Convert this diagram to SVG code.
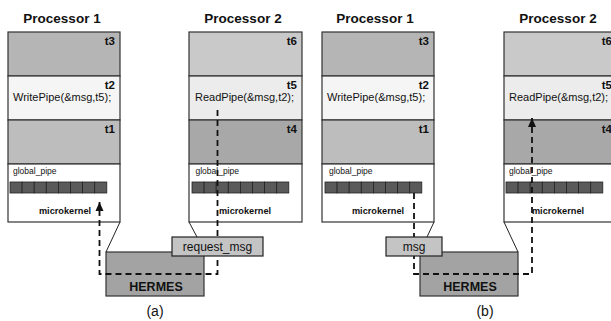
<svg xmlns="http://www.w3.org/2000/svg" width="611" height="321" viewBox="0 0 611 321">
  <style>
    text { font-family: "Liberation Sans", Arial, sans-serif; fill: #111; }
    .title { font-size: 13.5px; font-weight: bold; text-anchor: middle; }
    .tl { font-size: 11.5px; font-weight: bold; text-anchor: end; }
    .code { font-size: 11px; }
    .gp { font-size: 8.5px; }
    .mk { font-size: 9.2px; font-weight: bold; text-anchor: middle; }
    .box { stroke: #333; stroke-width: 1.2; }
    .cell { fill: #5a5a5a; stroke: #222; stroke-width: 0.8; }
    .hermes { fill: #a3a3a3; stroke: #333; stroke-width: 1.2; }
    .hl { font-size: 12.5px; font-weight: bold; text-anchor: middle; }
    .msgbox { fill: #c4c4c4; stroke: #222; stroke-width: 1.2; }
    .ml { font-size: 12px; text-anchor: middle; }
    .cap { font-size: 14px; text-anchor: middle; }
    .edge { fill: none; stroke: #222; stroke-width: 1; }
    .flow { fill: none; stroke: #111; stroke-width: 1.8; stroke-dasharray: 6 4; }
  </style>
  <defs>
    <marker id="head" markerUnits="userSpaceOnUse" markerWidth="10" markerHeight="10" viewBox="0 0 10 10" refX="9" refY="5" orient="auto">
      <path d="M0,1 L9,5 L0,9 Z" fill="#111"/>
    </marker>
    <g id="pipe">
      <rect class="cell" x="0" y="0" width="12.1" height="11"/>
      <rect class="cell" x="12.1" y="0" width="12.1" height="11"/>
      <rect class="cell" x="24.2" y="0" width="12.1" height="11"/>
      <rect class="cell" x="36.3" y="0" width="12.1" height="11"/>
      <rect class="cell" x="48.4" y="0" width="12.1" height="11"/>
      <rect class="cell" x="60.5" y="0" width="12.1" height="11"/>
      <rect class="cell" x="72.6" y="0" width="12.1" height="11"/>
      <rect class="cell" x="84.7" y="0" width="12.1" height="11"/>
    </g>
  </defs>

  <!-- (a) Processor 1 -->
  <g id="a-proc1">
    <text class="title" x="62" y="23">Processor 1</text>
    <rect class="box" x="8" y="32" width="112" height="44" fill="#b5b5b5"/>
    <rect class="box" x="8" y="76" width="112" height="44" fill="#f5f5f5"/>
    <rect class="box" x="8" y="120" width="112" height="44" fill="#bdbdbd"/>
    <rect class="box" x="8" y="164" width="112" height="58" fill="#ffffff"/>
    <text class="tl" x="115" y="45">t3</text>
    <text class="tl" x="115" y="89">t2</text>
    <text class="code" x="13" y="101">WritePipe(&amp;msg,t5);</text>
    <text class="tl" x="115" y="133">t1</text>
    <text class="gp" x="13" y="174">global_pipe</text>
    <use href="#pipe" x="10" y="182"/>
    <text class="mk" x="65" y="214">microkernel</text>
  </g>

  <!-- (a) Processor 2 -->
  <g id="a-proc2">
    <text class="title" x="243" y="23">Processor 2</text>
    <rect class="box" x="189" y="32" width="113" height="44" fill="#c9c9c9"/>
    <rect class="box" x="189" y="76" width="113" height="44" fill="#ececec"/>
    <rect class="box" x="189" y="120" width="113" height="44" fill="#a8a8a8"/>
    <rect class="box" x="189" y="164" width="113" height="58" fill="#ffffff"/>
    <text class="tl" x="297" y="45">t6</text>
    <text class="tl" x="297" y="89">t5</text>
    <text class="code" x="195" y="101">ReadPipe(&amp;msg,t2);</text>
    <text class="tl" x="297" y="133">t4</text>
    <text class="gp" x="195.5" y="174">global_pipe</text>
    <use href="#pipe" x="192" y="182"/>
    <text class="mk" x="245" y="214">microkernel</text>
  </g>

  <!-- (a) HERMES -->
  <g id="a-hermes">
    <rect class="hermes" x="106" y="252" width="98" height="44"/>
    <text class="hl" x="156" y="291">HERMES</text>
  </g>

  <!-- (b) Processor 1 -->
  <g id="b-proc1">
    <text class="title" x="375" y="23">Processor 1</text>
    <rect class="box" x="322" y="32" width="112" height="44" fill="#b5b5b5"/>
    <rect class="box" x="322" y="76" width="112" height="44" fill="#f5f5f5"/>
    <rect class="box" x="322" y="120" width="112" height="44" fill="#bdbdbd"/>
    <rect class="box" x="322" y="164" width="112" height="58" fill="#ffffff"/>
    <text class="tl" x="429" y="45">t3</text>
    <text class="tl" x="429" y="89">t2</text>
    <text class="code" x="327" y="101">WritePipe(&amp;msg,t5);</text>
    <text class="tl" x="429" y="133">t1</text>
    <text class="gp" x="329" y="174">global_pipe</text>
    <use href="#pipe" x="325" y="182"/>
    <text class="mk" x="378" y="214">microkernel</text>
  </g>

  <!-- (b) Processor 2 -->
  <g id="b-proc2">
    <text class="title" x="558" y="23">Processor 2</text>
    <rect class="box" x="504" y="32" width="113" height="44" fill="#c9c9c9"/>
    <rect class="box" x="504" y="76" width="113" height="44" fill="#ececec"/>
    <rect class="box" x="504" y="120" width="113" height="44" fill="#a8a8a8"/>
    <rect class="box" x="504" y="164" width="113" height="58" fill="#ffffff"/>
    <text class="tl" x="612" y="45">t6</text>
    <text class="tl" x="612" y="89">t5</text>
    <text class="code" x="509" y="101">ReadPipe(&amp;msg,t2);</text>
    <text class="tl" x="612" y="133">t4</text>
    <text class="gp" x="509" y="174">global_pipe</text>
    <use href="#pipe" x="506" y="182"/>
    <text class="mk" x="558" y="214">microkernel</text>
  </g>

  <!-- (b) HERMES -->
  <g id="b-hermes">
    <rect class="hermes" x="420" y="252" width="98" height="44"/>
    <text class="hl" x="470" y="291">HERMES</text>
  </g>

  <!-- connectors: attachment edges and dashed message paths -->
  <g id="connectors">
    <path class="edge" d="M120,222 L106,252"/>
    <path class="edge" d="M189,222 L197,237"/>
    <path class="edge" d="M434,222 L427,237"/>
    <path class="edge" d="M504,222 L518,252"/>
    <path class="flow" d="M217.5,110 V274 H99.5 V202" marker-end="url(#head)"/>
    <path class="flow" d="M414,193 V274 H532 V118" marker-end="url(#head)"/>
  </g>

  <!-- message boxes sit above the paths -->
  <g id="a-request-msg">
    <rect class="msgbox" x="172" y="237" width="91" height="19"/>
    <text class="ml" x="217.5" y="250.5">request_msg</text>
  </g>
  <g id="b-msg">
    <rect class="msgbox" x="386" y="237" width="56" height="19"/>
    <text class="ml" x="414" y="250.5">msg</text>
  </g>

  <text class="cap" x="155" y="316">(a)</text>
  <text class="cap" x="485" y="316">(b)</text>
</svg>
